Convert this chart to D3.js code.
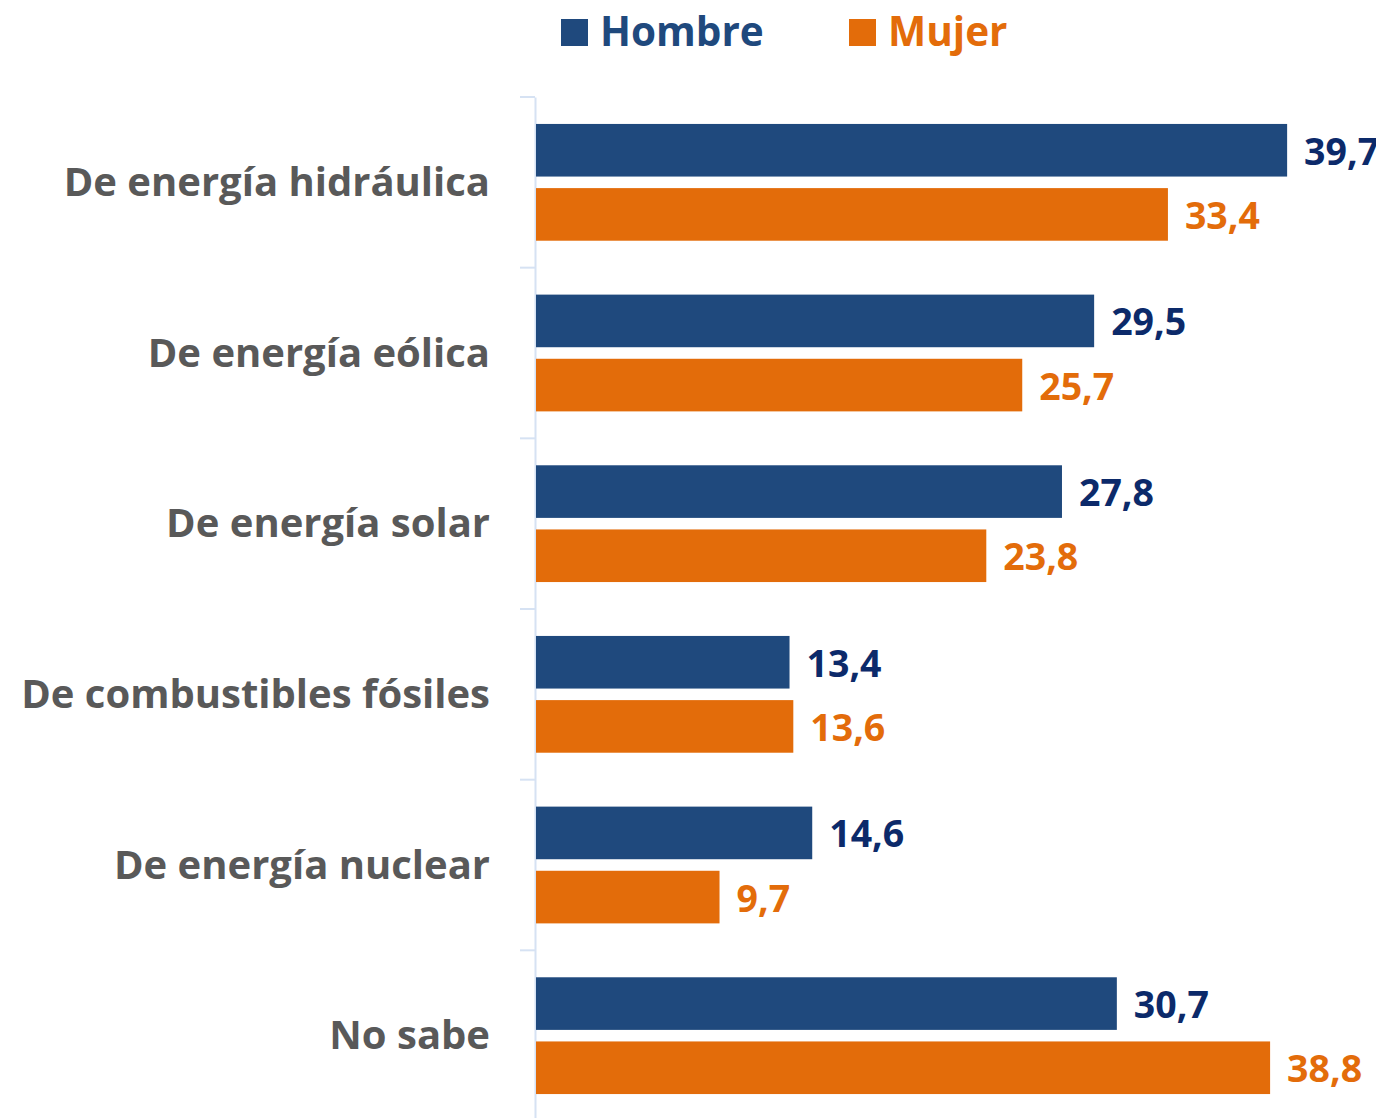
<!DOCTYPE html>
<html>
<head>
<meta charset="utf-8">
<script src="https://cdn.jsdelivr.net/npm/d3@7"></script>
<style>
  html, body { margin: 0; padding: 0; background: #ffffff; }
  svg { display: block; }
  text { font-family: "Open Sans", "Noto Sans", sans-serif; font-weight: 700; }
</style>
</head>
<body>
<svg id="chart" width="1376" height="1118"></svg>
<script>
// Energy sources, values in percent by sex
const categories = [
  "De energía hidráulica",
  "De energía eólica",
  "De energía solar",
  "De combustibles fósiles",
  "De energía nuclear",
  "No sabe"
];
const series = ["Hombre", "Mujer"];
const hombre = [39.7, 29.5, 27.8, 13.4, 14.6, 30.7];
const mujer  = [33.4, 25.7, 23.8, 13.6, 9.7, 38.8];

const barColors   = { Hombre: "#1F497D", Mujer: "#E36C0A" };
const labelColors = { Hombre: "#0C2A6A", Mujer: "#E36C0A" };

const rows = categories.map((c, i) => ({ category: c, Hombre: hombre[i], Mujer: mujer[i] }));

const svg = d3.select("#chart");

const plot = { left: 536, top: 97, bottom: 1121 };

const x = d3.scaleLinear().domain([0, 40]).range([plot.left, plot.left + 756.8]);
const y = d3.scaleBand().domain(categories).range([plot.top, plot.bottom]).paddingInner(0).paddingOuter(0);
const inner = d3.scaleBand().domain(series).range([0, y.bandwidth()]).paddingInner(0.18).paddingOuter(0.42);

// Category axis on the left
const axis = d3.axisLeft(y).tickSize(0).tickFormat(() => "");
const axisG = svg.append("g").attr("transform", `translate(${plot.left - 1},0)`).call(axis);
axisG.select(".domain").attr("stroke", "#D6E2F3").attr("stroke-width", 2);

// Band separators as outside ticks
const edges = categories.map(c => y(c));
svg.append("g").selectAll("line").data(edges).join("line")
  .attr("x1", plot.left - 16).attr("x2", plot.left - 1)
  .attr("y1", d => d).attr("y2", d => d)
  .attr("stroke", "#D6E2F3").attr("stroke-width", 2);

// Category labels
svg.append("g").selectAll("text").data(categories).join("text")
  .attr("x", 490)
  .attr("y", d => y(d) + y.bandwidth() / 2 - 2)
  .attr("text-anchor", "end")
  .attr("dominant-baseline", "central")
  .attr("fill", "#595959")
  .attr("font-size", 40)
  .text(d => d);

// Bars
const groups = svg.append("g").selectAll("g").data(rows).join("g")
  .attr("transform", d => `translate(0,${y(d.category)})`);

groups.selectAll("rect").data(d => series.map(s => ({ s, v: d[s] }))).join("rect")
  .attr("x", x(0))
  .attr("y", d => inner(d.s))
  .attr("width", d => x(d.v) - x(0))
  .attr("height", inner.bandwidth())
  .attr("fill", d => barColors[d.s]);

// Value labels
const fmt = v => d3.format(".1f")(v).replace(".", ",");
groups.selectAll("text").data(d => series.map(s => ({ s, v: d[s] }))).join("text")
  .attr("x", d => x(d.v) + 17)
  .attr("y", d => inner(d.s) + inner.bandwidth() / 2)
  .attr("dominant-baseline", "central")
  .attr("fill", d => labelColors[d.s])
  .attr("font-size", 37.5)
  .text(d => fmt(d.v));

// Legend
const legendItems = [
  { s: "Hombre", x: 561 },
  { s: "Mujer", x: 849 }
];
const legend = svg.append("g").selectAll("g").data(legendItems).join("g")
  .attr("transform", d => `translate(${d.x},19)`);
legend.append("rect").attr("width", 27).attr("height", 27).attr("fill", d => barColors[d.s]);
legend.append("text")
  .attr("x", 39).attr("y", 11)
  .attr("dominant-baseline", "central")
  .attr("fill", d => barColors[d.s])
  .attr("font-size", 40.5)
  .text(d => d.s);
</script>
</body>
</html>
